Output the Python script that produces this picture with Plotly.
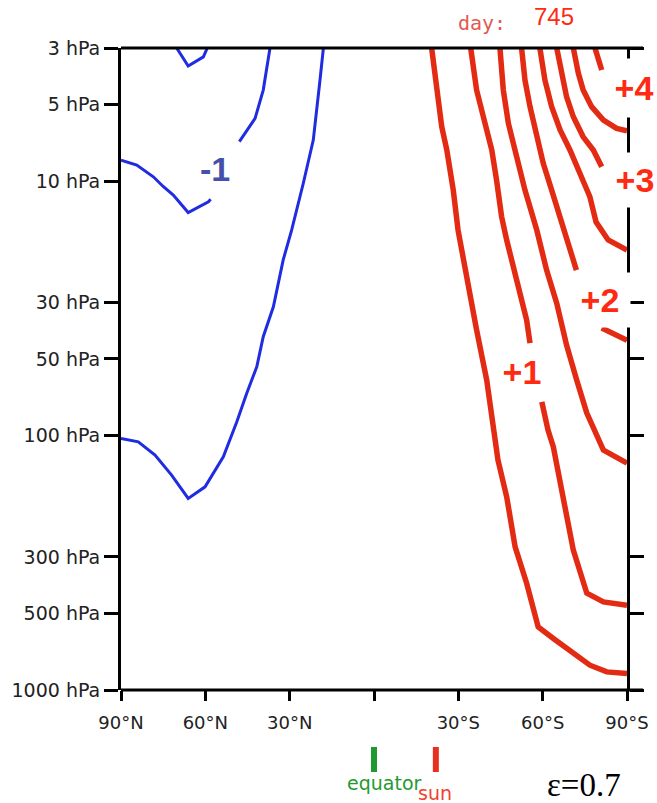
import plotly.graph_objects as go
import numpy as np

# ---------------- data (latitude: + = N, - = S ; pressure in hPa) ----------------
lat_ticks = [90, 60, 30, 0, -30, -60, -90]
lat_labels = ["90°N", "60°N", "30°N", "", "30°S", "60°S", "90°S"]
p_ticks = [3, 5, 10, 30, 50, 100, 300, 500, 1000]
p_labels = ["3 hPa", "5 hPa", "10 hPa", "30 hPa", "50 hPa", "100 hPa", "300 hPa", "500 hPa", "1000 hPa"]

# negative (blue) contours
blue1_lat = [70.2, 66.1, 60.7, 59.3]
blue1_p = [3.0, 3.53, 3.25, 3.0]
blue2a_lat = [90.0, 84.4, 78.5, 75.0, 71.4, 66.1, 58.9, 58.1]
blue2a_p = [8.27, 8.65, 9.62, 10.5, 11.35, 13.3, 12.06, 11.8]
blue2b_lat = [47.9, 42.3, 39.4, 38.2, 37.0]
blue2b_p = [7.0, 5.67, 4.39, 3.66, 3.0]
blue3_lat = [90.0, 83.85, 77.9, 72.0, 66.1, 60.1, 53.6, 48.8, 45.3, 41.7, 39.4, 35.8, 32.3, 29.3, 25.15, 21.6, 19.2, 18.0]
blue3_p = [102.6, 105.9, 119.4, 143.1, 176.7, 159.1, 121.2, 88.3, 68.3, 53.7, 40.9, 31.2, 20.4, 15.6, 10.2, 6.9, 4.0, 3.0]

# positive (red) contours
redA_lat = [-20.5, -22.3, -24.1, -25.9, -28.2, -29.9, -33.0, -36.5, -40.1, -42.3, -44.1, -47.2, -50.2, -54.3, -58.4, -63.8, -70.9, -76.8, -82.8, -90.0]
redA_p = [3.0, 4.39, 6.12, 7.55, 10.85, 15.6, 24.5, 38.5, 60.6, 89.4, 124.9, 174.1, 273.8, 380.4, 564.9, 627.6, 718.6, 798.9, 848.7, 861.3]
redB1_lat = [-34.4, -36.5, -39.5, -41.9, -43.6, -45.4, -47.2, -50.8, -54.3, -55.5]
redB1_p = [3.0, 4.39, 5.93, 7.55, 9.91, 13.81, 17.05, 24.5, 35.2, 43.3]
redB2_lat = [-59.7, -61.9, -63.8, -67.3, -70.9, -75.7, -81.6, -90.0]
redB2_p = [73.7, 95.2, 110.8, 172.0, 282.2, 416.5, 450.5, 464.2]
redC_lat = [-44.8, -46.0, -47.8, -50.2, -53.7, -57.9, -61.4, -65.0, -68.5, -72.1, -75.7, -81.6, -90.0]
redC_p = [3.0, 4.39, 5.93, 7.55, 10.85, 15.58, 22.38, 30.17, 44.1, 60.55, 81.64, 114.1, 128.4]
redD1_lat = [-52.5, -53.7, -55.5, -57.9, -60.2, -63.2, -66.2, -68.5, -72.0]
redD1_p = [3.0, 4.01, 5.10, 6.48, 8.52, 10.85, 13.81, 16.55, 22.38]
redD2_lat = [-81.0, -84.7, -90.0]
redD2_p = [37.8, 39.6, 42.2]
redE_lat = [-59.0, -60.8, -63.2, -66.2, -69.7, -73.3, -76.8, -79.0, -83.3, -90.0]
redE_p = [3.0, 4.01, 5.10, 6.30, 7.55, 9.32, 11.53, 14.49, 17.05, 18.67]
redF_lat = [-65.0, -66.8, -68.5, -70.9, -74.4, -78.0, -81.0]
redF_p = [3.0, 3.77, 4.66, 5.59, 6.70, 7.55, 8.79]
redG_lat = [-70.9, -72.7, -74.4, -77.4, -81.6, -86.3, -90.0]
redG_p = [3.0, 3.77, 4.39, 5.10, 5.76, 6.21, 6.34]
redH_lat = [-78.6, -81.0]
redH_p = [3.0, 3.66]

red_labels = ["+4", "+3", "+2", "+1"]
blue_labels = ["-1"]
equator_lat = 0
sun_lat = -22
day = 745
epsilon = 0.7

# ---------------- styles ----------------
BLUE = "#1f2ce0"
RED = "#e32b14"
LABEL_RED = "#ff2a12"
LABEL_BLUE = "#4650aa"

# plot area in pixels: x 121..627, y 48..690
L, R, T, B = 121, 627, 48, 690
W, H = 657, 803
def px(xp):
    return (xp - L) / (R - L)
def py(yp):
    return (B - yp) / (B - T)

fig = go.Figure()

blue_sets = [(blue1_lat, blue1_p), (blue2a_lat, blue2a_p), (blue2b_lat, blue2b_p), (blue3_lat, blue3_p)]
for la, pp in blue_sets:
    fig.add_trace(go.Scatter(x=la, y=pp, mode="lines", line=dict(color=BLUE, width=3),
                             showlegend=False, hoverinfo="skip"))

red_sets = [(redA_lat, redA_p), (redB1_lat, redB1_p), (redB2_lat, redB2_p), (redC_lat, redC_p),
            (redD1_lat, redD1_p), (redD2_lat, redD2_p), (redE_lat, redE_p), (redF_lat, redF_p),
            (redG_lat, redG_p), (redH_lat, redH_p)]
for la, pp in red_sets:
    fig.add_trace(go.Scatter(x=la, y=pp, mode="lines", line=dict(color=RED, width=5.5),
                             showlegend=False, hoverinfo="skip"))

annots = []
lab_font = dict(family="Liberation Sans, Arial", size=34, color=LABEL_RED, weight="bold")
# (center px x, center px y, box w, box h)
red_pos = [(634, 88, 44, 58), (635, 180, 44, 54), (600, 300, 60, 54), (522, 372, 44, 40)]
for t, (xx, yy, bw, bh) in zip(red_labels, red_pos):
    annots.append(dict(text=t, x=px(xx), y=py(yy), xref="paper", yref="paper", showarrow=False,
                       xanchor="center", yanchor="middle", font=lab_font, bgcolor="white",
                       width=bw, height=bh, borderpad=0))
annots.append(dict(text=blue_labels[0], x=px(215), y=py(169), xref="paper", yref="paper", showarrow=False,
                   xanchor="center", yanchor="middle",
                   font=dict(family="Liberation Sans, Arial", size=34, color=LABEL_BLUE, weight="bold")))

annots.append(dict(text="day:", x=px(482), y=py(23), xref="paper", yref="paper", showarrow=False,
                   xanchor="center", yanchor="middle",
                   font=dict(family="DejaVu Sans Mono", size=20, color="#e05a52")))
annots.append(dict(text=str(day), x=px(554), y=py(17), xref="paper", yref="paper", showarrow=False,
                   xanchor="center", yanchor="middle",
                   font=dict(family="Liberation Sans, Arial", size=24, color=LABEL_RED)))
annots.append(dict(text="equator", x=px(384), y=py(783), xref="paper", yref="paper", showarrow=False,
                   xanchor="center", yanchor="middle",
                   font=dict(family="DejaVu Sans", size=19, color="#1f9a30")))
annots.append(dict(text="sun", x=px(435), y=py(793), xref="paper", yref="paper", showarrow=False,
                   xanchor="center", yanchor="middle",
                   font=dict(family="DejaVu Sans", size=19, color="#f04030")))
annots.append(dict(text=f"ε={epsilon}", x=px(584), y=py(785), xref="paper", yref="paper", showarrow=False,
                   xanchor="center", yanchor="middle",
                   font=dict(family="Liberation Serif, Times New Roman", size=33, color="black")))

shapes = [
    # top and bottom frame lines (extend past right axis)
    dict(type="line", xref="paper", yref="paper", x0=0, x1=px(643), y0=1, y1=1,
         line=dict(color="black", width=3)),
    dict(type="line", xref="paper", yref="paper", x0=0, x1=px(643), y0=0, y1=0,
         line=dict(color="black", width=3)),
    # equator / sun markers
    dict(type="line", xref="x", yref="paper", x0=equator_lat, x1=equator_lat, y0=py(747), y1=py(772),
         line=dict(color="#1f9a30", width=6)),
    dict(type="line", xref="x", yref="paper", x0=sun_lat, x1=sun_lat, y0=py(747), y1=py(772),
         line=dict(color="#e83020", width=6)),
]

fig.update_layout(
    width=W, height=H,
    margin=dict(l=L, r=W - R, t=T, b=H - B, pad=0, autoexpand=False),
    paper_bgcolor="white", plot_bgcolor="white",
    annotations=annots, shapes=shapes,
    font=dict(family="DejaVu Sans", color="#222"),
)
fig.update_xaxes(range=[90, -90], tickvals=lat_ticks, ticktext=lat_labels, automargin=False,
                 showgrid=False, zeroline=False, showline=False,
                 ticks="outside", ticklen=10, tickwidth=2.5, tickcolor="black",
                 tickfont=dict(family="DejaVu Sans", size=18, color="#222"),
                 ticklabelstandoff=6)
fig.update_yaxes(type="log", range=[np.log10(1000), np.log10(3)], tickvals=p_ticks, ticktext=p_labels,
                 automargin=False,
                 showgrid=False, zeroline=False, showline=True, linecolor="black", linewidth=3,
                 mirror="ticks", ticks="outside", ticklen=14, tickwidth=2.5, tickcolor="black",
                 tickfont=dict(family="DejaVu Sans", size=19, color="#222"),
                 ticklabelstandoff=0)

fig.write_html("out.html")
